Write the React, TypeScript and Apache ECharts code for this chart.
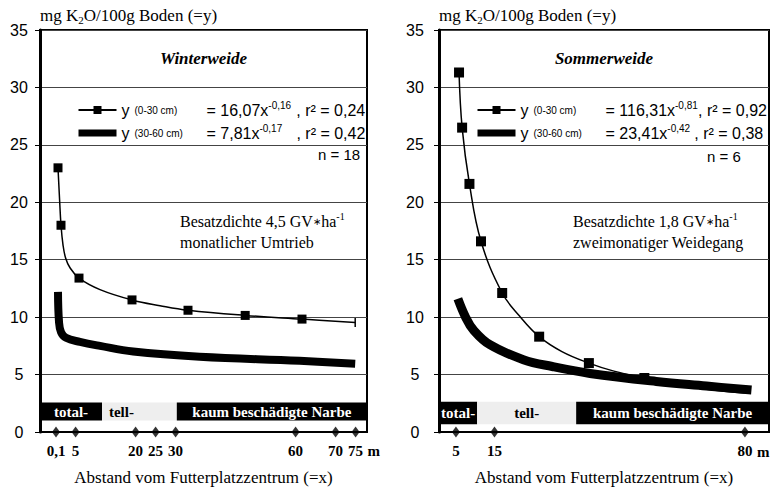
import React, { useEffect, useRef } from "react";
import * as echarts from "echarts";

// ---------------- data ----------------
// x-axis ticks (distance from feeding place centre, m)
const W_TICKS = [0.1, 5, 20, 25, 30, 60, 70, 75];
const S_TICKS = [5, 15, 80];
const X_UNIT = "m";

// Winterweide, 0-30 cm (thin curve, square markers on measured points)
const W_TOP_X = [0.6, 1.0, 1.35, 1.85, 2.5, 3.6, 5.85, 11.1, 19.1, 26.1, 33.1, 47.4, 61.6, 74.9];
const W_TOP_Y = [23.0, 20.2, 18.0, 16.3, 15.15, 14.3, 13.4, 12.4, 11.5, 11.0, 10.6, 10.15, 9.83, 9.54];
const W_TOP_MEASURED = [1, 0, 1, 0, 0, 0, 1, 0, 1, 0, 1, 1, 1, 0];
// Winterweide, 30-60 cm (thick curve)
const W_SUB_X = [0.6, 0.85, 1.35, 2.6, 6.1, 11.1, 19.4, 36, 61, 74.9];
const W_SUB_Y = [12.2, 9.6, 8.7, 8.2, 7.85, 7.5, 7.0, 6.55, 6.2, 5.95];

// Sommerweide, 0-30 cm
const S_TOP_X = [5.8, 6.6, 8.5, 11.5, 17.0, 21.5, 26.6, 32.5, 39.5, 46, 53.9, 66, 80];
const S_TOP_Y = [31.3, 26.5, 21.6, 16.6, 12.1, 10.1, 8.3, 7.0, 6.0, 5.3, 4.7, 3.9, 3.4];
const S_TOP_MEASURED = [1, 1, 1, 1, 1, 0, 1, 0, 1, 0, 1, 0, 0];
// Sommerweide, 30-60 cm
const S_SUB_X = [5.5, 7.5, 9.5, 13.8, 22.5, 30, 39.8, 57, 70, 81.7];
const S_SUB_Y = [11.6, 10.0, 8.9, 7.6, 6.3, 5.7, 5.1, 4.4, 4.0, 3.65];

// damage zones of the sward
const ZONE_LABELS = ["total-", "tell-", "kaum beschädigte Narbe"];
const W_ZONE_EDGES = [-3.9, 11.6, 30.3, 77.85];
const S_ZONE_EDGES = [0.6, 10.5, 36.2, 86.25];
const W_BAND_Y = [1.0, 2.56];
const S_BAND_Y = [0.67, 2.63];

const Y_MIN = 0;
const Y_MAX = 35;
const Y_STEP = 5;

const W_LEG_TOP = "y (0-30 cm) = 16,07x-0,16 , r² = 0,24";
const W_LEG_SUB = "y (30-60 cm) = 7,81x-0,17 , r² = 0,42";
const S_LEG_TOP = "y (0-30 cm) = 116,31x-0,81 , r² = 0,92";
const S_LEG_SUB = "y (30-60 cm) = 23,41x-0,42 , r² = 0,38";

const LEG_RICH: Record<string, string> = {
  [W_LEG_TOP]: "{a|y}{s|(0-30 cm)}{e|= 16,07x}{p1|-0,16}{r|, r² = 0,24}",
  [W_LEG_SUB]: "{a|y}{s|(30-60 cm)}{e|= 7,81x}{p2|-0,17}{r|, r² = 0,42}",
  [S_LEG_TOP]: "{a|y}{s|(0-30 cm)}{e|= 116,31x}{p1|-0,81}{r|, r² = 0,92}",
  [S_LEG_SUB]: "{a|y}{s|(30-60 cm)}{e|= 23,41x}{p2|-0,42}{r|, r² = 0,38}",
};

const SERIF = "'Liberation Serif', 'Times New Roman', serif";
const SANS = "'Liberation Sans', Arial, sans-serif";

type Panel = {
  title: string;
  grid: { left: number; top: number; width: number; height: number };
  xRange: number[];
  ticks: number[];
  topX: number[];
  topY: number[];
  topM: number[];
  subX: number[];
  subY: number[];
  zones: number[];
  bandY: number[];
  topName: string;
  subName: string;
  p1w: number;
  p2w: number;
  subWidth: number;
  symSize: number;
  endCap: boolean;
  tellOffset: number;
  yLabelMargin: number;
  nText: string;
  nPos: number[];
  ann: string;
  annPos: number[];
};

const PANELS: Panel[] = [
  {
    title: "Winterweide",
    grid: { left: 40, top: 30, width: 327, height: 402.5 },
    xRange: [W_ZONE_EDGES[0], W_ZONE_EDGES[3]],
    ticks: W_TICKS,
    topX: W_TOP_X,
    topY: W_TOP_Y,
    topM: W_TOP_MEASURED,
    subX: W_SUB_X,
    subY: W_SUB_Y,
    zones: W_ZONE_EDGES,
    bandY: W_BAND_Y,
    topName: W_LEG_TOP,
    subName: W_LEG_SUB,
    p1w: 28,
    p2w: 37,
    subWidth: 8,
    symSize: 9,
    endCap: true,
    tellOffset: -18,
    yLabelMargin: 21,
    nText: "n = 18",
    nPos: [318, 147],
    ann: "Besatzdichte 4,5 GV{st|∗}ha{sup|-1}\nmonatlicher Umtrieb",
    annPos: [180, 211],
  },
  {
    title: "Sommerweide",
    grid: { left: 439, top: 30, width: 330, height: 403.5 },
    xRange: [S_ZONE_EDGES[0], S_ZONE_EDGES[3]],
    ticks: S_TICKS,
    topX: S_TOP_X,
    topY: S_TOP_Y,
    topM: S_TOP_MEASURED,
    subX: S_SUB_X,
    subY: S_SUB_Y,
    zones: S_ZONE_EDGES,
    bandY: S_BAND_Y,
    topName: S_LEG_TOP,
    subName: S_LEG_SUB,
    p1w: 23,
    p2w: 27,
    subWidth: 9,
    symSize: 10,
    endCap: false,
    tellOffset: 0,
    yLabelMargin: 24,
    nText: "n = 6",
    nPos: [707, 149],
    ann: "Besatzdichte 1,8 GV{st|∗}ha{sup|-1}\nzweimonatiger Weidegang",
    annPos: [573, 211],
  },
];

const fmtNum = (v: number) => String(v).replace(".", ",");

function buildOption() {
  const title: any[] = [];
  const legend: any[] = [];
  const grid: any[] = [];
  const xAxis: any[] = [];
  const yAxis: any[] = [];
  const series: any[] = [];
  const graphic: any[] = [];

  PANELS.forEach((p, i) => {
    const cx = p.grid.left + p.grid.width / 2;
    title.push({
      text: p.title,
      left: cx,
      top: 50,
      padding: 0,
      textAlign: "center",
      textStyle: {
        fontFamily: SERIF,
        fontStyle: "italic",
        fontWeight: "bold",
        fontSize: 17,
        color: "#000",
      },
    });

    legend.push({
      show: true,
      orient: "vertical",
      left: p.grid.left + 35,
      top: 100,
      padding: 0,
      itemWidth: 38,
      itemHeight: 10,
      itemGap: 3,
      selectedMode: false,
      data: [
        { name: p.topName },
        { name: p.subName, lineStyle: { width: 7 }, itemStyle: { opacity: 0 } },
      ],
      formatter: (n: string) => LEG_RICH[n] || n,
      textStyle: {
        fontFamily: SANS,
        fontSize: 16,
        color: "#000",
        lineHeight: 20,
        rich: {
          a: { fontFamily: SANS, fontSize: 16, width: 13, lineHeight: 20, color: "#000" },
          s: { fontFamily: SANS, fontSize: 10, width: 72, lineHeight: 20, color: "#000" },
          e: { fontFamily: SANS, fontSize: 16, lineHeight: 20, color: "#000" },
          p1: { fontFamily: SANS, fontSize: 10, width: p.p1w, lineHeight: 12, verticalAlign: "top", color: "#000" },
          p2: { fontFamily: SANS, fontSize: 10, width: p.p2w, lineHeight: 12, verticalAlign: "top", color: "#000" },
          r: { fontFamily: SANS, fontSize: 16, lineHeight: 20, color: "#000" },
        },
      },
    });

    grid.push({
      ...p.grid,
      show: true,
      borderColor: "#000",
      borderWidth: 2,
      backgroundColor: "transparent",
      containLabel: false,
    });

    xAxis.push({
      type: "value",
      gridIndex: i,
      min: p.xRange[0],
      max: p.xRange[1],
      name: "Abstand vom Futterplatzzentrum (=x)",
      nameLocation: "middle",
      nameGap: 37,
      nameTextStyle: { fontFamily: SERIF, fontSize: 17, color: "#000" },
      axisLine: { show: true, onZero: false, lineStyle: { color: "#000", width: 2 } },
      axisTick: { show: false },
      splitLine: { show: false },
      axisLabel: {
        customValues: p.ticks,
        hideOverlap: false,
        formatter: (v: number) => fmtNum(v),
        fontFamily: SERIF,
        fontSize: 15,
        fontWeight: "bold",
        color: "#000",
        margin: 11,
      },
    });

    yAxis.push({
      type: "value",
      gridIndex: i,
      min: Y_MIN,
      max: Y_MAX,
      interval: Y_STEP,
      name: "mg K{sub|2}O/100g Boden (=y)",
      nameLocation: "end",
      nameGap: 5,
      nameTextStyle: {
        fontFamily: SERIF,
        fontSize: 17,
        color: "#000",
        align: "left",
        lineHeight: 20,
        rich: {
          sub: { fontFamily: SERIF, fontSize: 11, lineHeight: 13, verticalAlign: "bottom", color: "#000" },
        },
      },
      axisLine: { show: true, onZero: false, lineStyle: { color: "#000", width: 3 } },
      axisTick: { show: true, length: 5, lineStyle: { color: "#000", width: 1 } },
      axisLabel: {
        margin: p.yLabelMargin,
        align: "center",
        fontFamily: SANS,
        fontSize: 16,
        color: "#000",
      },
      splitLine: { show: true, lineStyle: { color: "#444", width: 1 } },
    });

    // thick 30-60 cm curve, carries the damage zones
    series.push({
      type: "line",
      name: p.subName,
      xAxisIndex: i,
      yAxisIndex: i,
      data: p.subX.map((x, k) => [x, p.subY[k]]),
      smooth: 0.4,
      symbol: "none",
      lineStyle: { color: "#000", width: p.subWidth, cap: "butt", join: "round" },
      itemStyle: { color: "#000" },
      z: 2,
      silent: true,
      markArea: {
        silent: true,
        label: {
          show: true,
          position: "inside",
          fontFamily: SERIF,
          fontWeight: "bold",
          fontSize: 15,
        },
        data: ZONE_LABELS.map((lab, k) => [
          {
            name: lab,
            xAxis: p.zones[k],
            yAxis: p.bandY[0],
            itemStyle: { color: k === 1 ? "#eeeeee" : "#000", opacity: 1 },
            label: {
              color: k === 1 ? "#000" : "#fff",
              offset: [k === 1 ? p.tellOffset : 0, 0],
            },
          },
          { xAxis: p.zones[k + 1], yAxis: p.bandY[1] },
        ]),
      },
    });

    // thin 0-30 cm curve with square markers
    const lastIdx = p.topX.length - 1;
    series.push({
      type: "line",
      name: p.topName,
      xAxisIndex: i,
      yAxisIndex: i,
      data: p.topX.map((x, k) => {
        if (p.endCap && k === lastIdx)
          return { value: [x, p.topY[k]], symbol: "rect", symbolSize: [1.5, 9] };
        return { value: [x, p.topY[k]], symbol: p.topM[k] ? "rect" : "none" };
      }),
      smooth: 0.4,
      symbol: "rect",
      symbolSize: p.symSize,
      showAllSymbol: true,
      lineStyle: { color: "#000", width: 1.5 },
      itemStyle: { color: "#000" },
      z: 3,
      silent: true,
    });

    // diamond tick marks on the x axis
    series.push({
      type: "scatter",
      xAxisIndex: i,
      yAxisIndex: i,
      data: p.ticks.map((t) => [t, Y_MIN]),
      symbol: "diamond",
      symbolSize: [8, 11],
      itemStyle: { color: "#000" },
      clip: false,
      z: 6,
      silent: true,
    });

    // unit "m" just right of the last tick label
    const lastTick = p.ticks[p.ticks.length - 1];
    const lastPx =
      p.grid.left +
      ((lastTick - p.xRange[0]) / (p.xRange[1] - p.xRange[0])) * p.grid.width;
    graphic.push({
      type: "text",
      x: lastPx + 12,
      y: p.grid.top + p.grid.height + 11,
      style: {
        text: X_UNIT,
        fill: "#000",
        fontFamily: SERIF,
        fontSize: 15,
        fontWeight: "bold",
        align: "left",
        verticalAlign: "top",
      },
    });

    graphic.push({
      type: "text",
      x: p.nPos[0],
      y: p.nPos[1],
      style: { text: p.nText, fill: "#000", fontFamily: SANS, fontSize: 15 },
    });
    graphic.push({
      type: "text",
      x: p.annPos[0],
      y: p.annPos[1],
      style: {
        text: p.ann,
        fill: "#000",
        fontFamily: SERIF,
        fontSize: 16,
        lineHeight: 21,
        rich: {
          sup: { fontFamily: SERIF, fontSize: 10, lineHeight: 12, verticalAlign: "top", fill: "#000" },
          st: { fontFamily: "'DejaVu Sans'", fontSize: 10, lineHeight: 21, fill: "#000" },
        },
      },
    });
  });

  return {
    animation: false,
    backgroundColor: "#fff",
    title,
    legend,
    grid,
    xAxis,
    yAxis,
    series,
    graphic,
  };
}

export default function App() {
  const ref = useRef<HTMLDivElement>(null);
  useEffect(() => {
    if (!ref.current) return;
    const chart = echarts.init(ref.current, undefined, { renderer: "svg" });
    chart.setOption(buildOption() as any);
    return () => chart.dispose();
  }, []);
  return (
    <div
      ref={ref}
      style={{ position: "absolute", left: 0, top: 0, width: 772, height: 491 }}
    />
  );
}
